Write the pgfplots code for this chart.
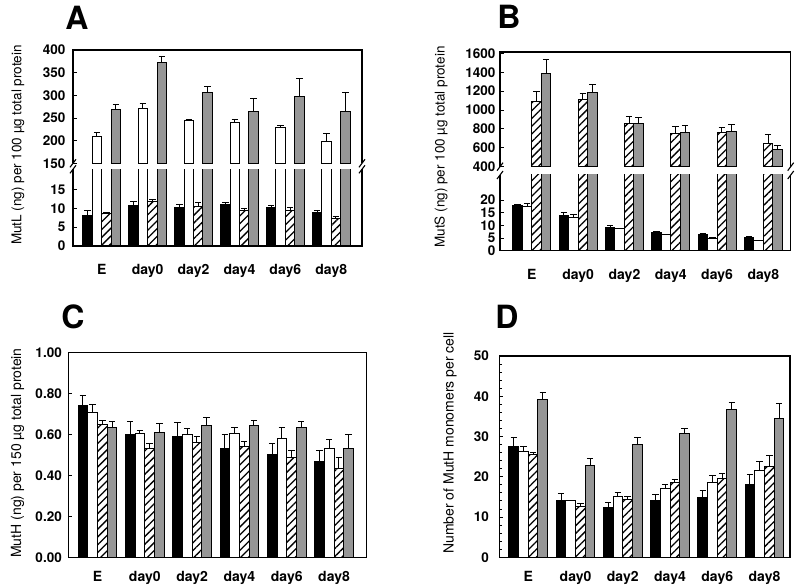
\documentclass[border=0pt]{standalone}
\usepackage{fontspec}
\setmainfont{TeX Gyre Heros}
\usepackage{pgfplots}
\pgfplotsset{compat=1.18}
\usepackage{pgfplotstable}
\usetikzlibrary{patterns.meta}
\definecolor{bargray}{RGB}{150,150,150}

% columns: group, black, white, hatched, gray (value and error above)
\pgfplotstableread{
x blk blkE wht whtE hat hatE gry gryE
0 8.2  1.2 210 7  8.5  0.4 268 11
1 10.6 1.2 270 13 11.9 0.3 372 13
2 10.2 0.9 244 2  10.4 1.2 306 14
3 10.9 0.5 240 6  9.5  0.5 265 28
4 10.2 0.5 229 5  9.5  0.6 298 38
5 8.8  0.5 198 18 7.3  0.4 265 42
}\tabA
\pgfplotstableread{
x blk blkE wht whtE hat hatE gry gryE
0 17.9 0.4 17.4 1.2 1095 103 1388 148
1 13.9 1.0 13.2 1.0 1106 70  1187 85
2 9.0  0.8 8.8  0.1 852  77  859  60
3 7.2  0.2 6.4  0.1 753  71  763  78
4 6.5  0.3 5.0  0.1 763  57  770  78
5 5.4  0.2 4.0  0.1 647  92  584  42
}\tabB
\pgfplotstableread{
x blk blkE wht whtE hat hatE gry gryE
0 0.739 0.051 0.709 0.036 0.649 0.021 0.636 0.029
1 0.600 0.062 0.603 0.016 0.531 0.025 0.611 0.044
2 0.591 0.069 0.600 0.027 0.559 0.029 0.644 0.037
3 0.529 0.071 0.603 0.029 0.542 0.025 0.644 0.024
4 0.500 0.056 0.580 0.052 0.489 0.034 0.636 0.029
5 0.467 0.056 0.529 0.046 0.435 0.054 0.530 0.070
}\tabC
\pgfplotstableread{
x blk blkE wht whtE hat hatE gry gryE
0 27.6 2.1 26.2 1.4 25.6 0.4 39.2 1.8
1 14.2 1.7 14.1 0.1 12.7 0.6 22.9 1.7
2 12.3 1.4 15.1 0.9 14.4 0.8 28.1 1.6
3 14.1 1.6 17.1 1.0 18.5 0.8 30.7 1.2
4 14.8 1.8 18.7 1.7 19.5 1.4 36.6 1.8
5 18.2 2.3 21.5 2.2 22.5 2.9 34.4 3.8
}\tabD

\pgfplotsset{
  panel/.style={
    scale only axis, clip mode=individual,
    xtick={0,...,5}, xticklabels={E,day0,day2,day4,day6,day8},
    major x tick style={draw=none},
    ytick pos=left, tick align=inside, major tick length=4pt, minor tick length=2.5pt,
    every tick/.style={black,line width=0.9pt},
    yticklabel style={font=\fontsize{13.5}{15}\selectfont\bfseries},
    xticklabel style={font=\fontsize{14}{16}\selectfont\bfseries},
    /pgf/number format/assume math mode=true,
    /pgf/number format/1000 sep={},
    ybar=0pt, bar width=0.205,
  },
  broken/.style={panel, axis line style={draw=none}},
  whole/.style={panel, axis line style={line width=1.1pt}},
  errs/.style={error bars/y dir=plus, error bars/y explicit,
    error bars/error bar style={black,line width=1pt},
    error bars/error mark options={rotate=90,black,line width=1pt,mark size=3.2pt}},
  s1/.style={errs, draw=black, line width=1pt, fill=black, bar shift=-0.3075},
  s2/.style={errs, draw=black, line width=1pt, fill=white, bar shift=-0.1025},
  s3/.style={errs, draw=black, line width=1pt, fill=white,
    postaction={pattern={Lines[angle=45,distance=5.5pt,line width=1.3pt]}}, bar shift=0.1025},
  s4/.style={errs, draw=black, line width=1pt, fill=bargray, bar shift=0.3075},
}

\newcommand\bars[1]{%
  \addplot[s1] table[x=x,y=blk,y error=blkE]{#1};
  \addplot[s2] table[x=x,y=wht,y error=whtE]{#1};
  \addplot[s3] table[x=x,y=hat,y error=hatE]{#1};
  \addplot[s4] table[x=x,y=gry,y error=gryE]{#1};
}
\newcommand\upperframe{%
  \draw[line width=1.1pt] (rel axis cs:0,0) -- (rel axis cs:0,1) -- (rel axis cs:1,1) -- (rel axis cs:1,0);
  \draw[line width=1.1pt] ([shift={(-3pt,-4pt)}]rel axis cs:0,0) -- ([shift={(3pt,4pt)}]rel axis cs:0,0);
  \draw[line width=1.1pt] ([shift={(-3pt,-4pt)}]rel axis cs:1,0) -- ([shift={(3pt,4pt)}]rel axis cs:1,0);
}
\newcommand\lowerframe{%
  \draw[line width=1.1pt] (rel axis cs:0,1) -- (rel axis cs:0,0) -- (rel axis cs:1,0) -- (rel axis cs:1,1);
  \draw[line width=1.1pt] ([shift={(-3pt,-4pt)}]rel axis cs:0,1) -- ([shift={(3pt,4pt)}]rel axis cs:0,1);
  \draw[line width=1.1pt] ([shift={(-3pt,-4pt)}]rel axis cs:1,1) -- ([shift={(3pt,4pt)}]rel axis cs:1,1);
}

\begin{document}
\begin{tikzpicture}
\useasboundingbox (0pt,0pt) rectangle (800pt,588pt);

% ---- A ----
\begin{axis}[broken, at={(73pt,424.7pt)}, anchor=south west, width=289pt, height=113.3pt,
  xmin=-0.625, xmax=5.67, ymin=150, ymax=400, ytick={150,200,...,400},
  xtick=\empty, yticklabel style={xshift=-4pt}]
\addplot[s2] table[x=x,y=wht,y error=whtE]{\tabA};
\addplot[s4] table[x=x,y=gry,y error=gryE]{\tabA};
\upperframe
\end{axis}
\begin{axis}[broken, at={(73pt,342pt)}, anchor=south west, width=289pt, height=76.7pt,
  xmin=-0.625, xmax=5.67, ymin=0, ymax=20.3, ytick={0,5,10,15},
  yticklabel style={xshift=-4pt}, xticklabel style={yshift=-11pt}]
\bars{\tabA}
\lowerframe
\end{axis}
\node[font=\fontsize{32}{32}\selectfont\bfseries] at (77pt,570pt) {A};
\node[rotate=90,font=\fontsize{13.5}{15}\selectfont] at (18pt,443pt) {MutL (ng) per 100 µg total protein};

% ---- B ----
\begin{axis}[broken, at={(500pt,421.3pt)}, anchor=south west, width=290.7pt, height=114.7pt,
  xmin=-0.687, xmax=5.59, ymin=400, ymax=1614, ytick={400,600,...,1600},
  xtick=\empty, yticklabel style={xshift=-1pt}]
\addplot[s3] table[x=x,y=hat,y error=hatE]{\tabB};
\addplot[s4] table[x=x,y=gry,y error=gryE]{\tabB};
\upperframe
\end{axis}
\begin{axis}[broken, at={(500pt,337.3pt)}, anchor=south west, width=290.7pt, height=75.7pt,
  xmin=-0.687, xmax=5.59, ymin=0, ymax=29.9, ytick={0,5,10,15,20},
  yticklabel style={xshift=-1pt}, xticklabel style={yshift=-11.3pt}]
\bars{\tabB}
\lowerframe
\end{axis}
\node[font=\fontsize{32}{32}\selectfont\bfseries] at (509pt,571pt) {B};
\node[rotate=90,font=\fontsize{13.5}{15}\selectfont] at (441pt,441pt) {MutS (ng) per 100 µg total protein};

% ---- C ----
\begin{axis}[whole, at={(68.3pt,30.7pt)}, anchor=south west, width=298.4pt, height=204.8pt,
  xmin=-0.617, xmax=5.69, ymin=0, ymax=1.0, ytick={0,0.2,...,1.0},
  yticklabel style={xshift=-3pt,/pgf/number format/.cd,fixed,fixed zerofill,precision=2},
  xticklabel style={yshift=-6.3pt}]
\bars{\tabC}
\end{axis}
\node[font=\fontsize{32}{32}\selectfont\bfseries] at (73pt,271pt) {C};
\node[rotate=90,font=\fontsize{14}{15}\selectfont] at (17.5pt,135pt) {MutH (ng) per 150 µg total protein};

% ---- D ----
\begin{axis}[whole, at={(499.3pt,30.7pt)}, anchor=south west, width=290.7pt, height=201.3pt,
  xmin=-0.614, xmax=5.54, ymin=0, ymax=50, ytick={0,10,...,50}, minor y tick num=4,
  yticklabel style={xshift=-7pt}, xticklabel style={yshift=-6.3pt}]
\bars{\tabD}
\end{axis}
\node[font=\fontsize{32}{32}\selectfont\bfseries] at (507pt,271pt) {D};
\node[rotate=90,font=\fontsize{14}{15}\selectfont] at (450pt,145pt) {Number of MutH monomers per cell};
\end{tikzpicture}
\end{document}
